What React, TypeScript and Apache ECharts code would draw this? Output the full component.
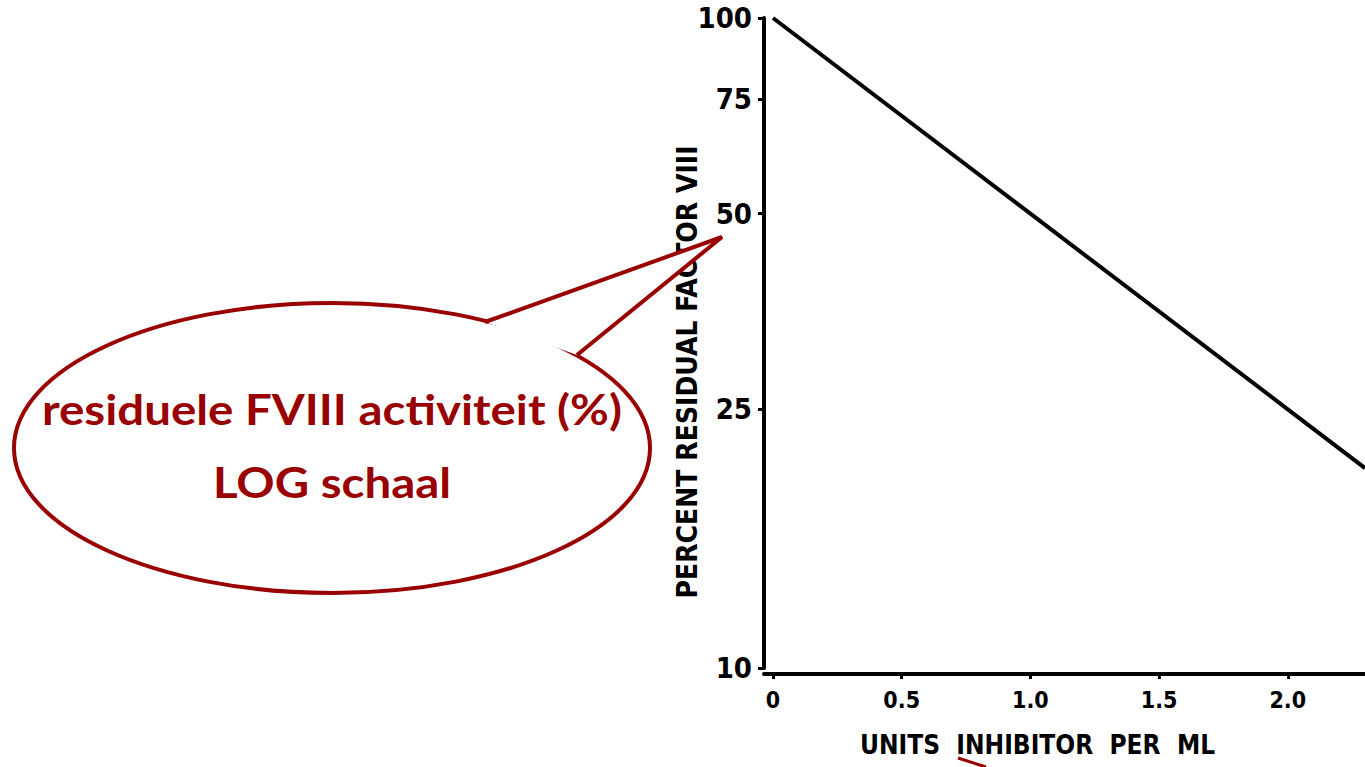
import React, { useEffect, useRef } from "react";
import * as echarts from "echarts";

// Bethesda-style inhibitor curve: residual factor VIII (%) vs. inhibitor units
const inhibitorUnits = [0, 1.0, 2.0, 2.3];
const residualPct = [100, 50, 25, 20.3];
const yTickValues = [10, 25, 50, 75, 100];
const xTickValues = [0, 0.5, 1.0, 1.5, 2.0];

const calloutLine1 = "residuele FVIII activiteit (%)";
const calloutLine2 = "LOG schaal";

const AXIS_FONT = '"DejaVu Sans Condensed", "DejaVu Sans", sans-serif';
const DARK_RED = "#990000";

export default function App() {
  const ref = useRef<HTMLDivElement>(null);

  useEffect(() => {
    if (!ref.current) return;
    const chart = echarts.init(ref.current, undefined, { renderer: "svg" });

    const tip = [722, 237];
    const baseA = [485, 322];
    const baseB = [577, 355];

    chart.setOption({
      animation: false,
      backgroundColor: "#ffffff",
      grid: { left: 764, right: 0, top: 18, bottom: 99 },
      xAxis: {
        type: "value",
        min: -0.035,
        max: 2.3,
        offset: 6,
        splitLine: { show: false },
        axisLine: { show: true, onZero: false, lineStyle: { color: "#000", width: 4 } },
        axisTick: { show: true, customValues: xTickValues, length: 5, lineStyle: { color: "#000", width: 3 } },
        axisLabel: {
          customValues: xTickValues,
          formatter: (v: number) => (v === 0 ? "0" : v.toFixed(1)),
          color: "#000",
          fontFamily: AXIS_FONT,
          fontWeight: "bold",
          fontSize: 23,
          margin: 14,
        },
        name: "UNITS  INHIBITOR  PER  ML",
        nameLocation: "middle",
        nameGap: 58,
        nameTextStyle: {
          color: "#000",
          fontFamily: AXIS_FONT,
          fontWeight: "bold",
          fontSize: 26,
          padding: [0, 54, 0, 0],
        },
      },
      yAxis: {
        type: "log",
        logBase: 10,
        min: 10,
        max: 100,
        splitLine: { show: false },
        minorTick: { show: false },
        axisLine: { show: true, onZero: false, lineStyle: { color: "#000", width: 4 } },
        axisTick: { show: true, customValues: yTickValues, length: 6, lineStyle: { color: "#000", width: 3 } },
        axisLabel: {
          customValues: yTickValues,
          formatter: (v: number) => String(Math.round(v)),
          color: "#000",
          fontFamily: AXIS_FONT,
          fontWeight: "bold",
          fontSize: 29,
          margin: 12,
        },
        name: "PERCENT RESIDUAL FACTOR VIII",
        nameLocation: "middle",
        nameGap: 63,
        nameMoveOverlap: false,
        nameTextStyle: {
          color: "#000",
          fontFamily: AXIS_FONT,
          fontWeight: "bold",
          fontSize: 28,
          padding: [0, 58, 0, 0],
        },
      },
      series: [
        {
          type: "line",
          data: inhibitorUnits.map((x, i) => [x, residualPct[i]]),
          symbol: "none",
          clip: false,
          lineStyle: { color: "#000", width: 4 },
        },
      ],
      graphic: [
        {
          type: "ellipse",
          shape: { cx: 332, cy: 448, rx: 318, ry: 145 },
          style: { fill: "#fff", stroke: DARK_RED, lineWidth: 4 },
          z: 10,
        },
        {
          type: "polygon",
          shape: { points: [baseA, tip, baseB] },
          style: { fill: "#fff", stroke: null },
          z: 11,
        },
        {
          type: "polyline",
          shape: { points: [baseA, tip, baseB] },
          style: { fill: null, stroke: DARK_RED, lineWidth: 4, lineJoin: "miter" },
          z: 12,
        },
        {
          type: "text",
          x: 332,
          y: 409,
          scaleX: 1.13,
          style: {
            text: calloutLine1,
            align: "center",
            verticalAlign: "middle",
            fill: DARK_RED,
            font: 'bold 42px Lato, "Open Sans", sans-serif',
          },
          z: 13,
        },
        {
          type: "text",
          x: 332,
          y: 482,
          scaleX: 1.13,
          style: {
            text: calloutLine2,
            align: "center",
            verticalAlign: "middle",
            fill: DARK_RED,
            font: 'bold 42px Lato, "Open Sans", sans-serif',
          },
          z: 13,
        },
        {
          type: "line",
          shape: { x1: 958, y1: 758, x2: 986, y2: 767 },
          style: { stroke: DARK_RED, lineWidth: 3 },
          z: 13,
        },
      ],
    });

    return () => chart.dispose();
  }, []);

  return (
    <div
      ref={ref}
      style={{ position: "fixed", left: 0, top: 0, width: 1365, height: 767, background: "#fff" }}
    />
  );
}
